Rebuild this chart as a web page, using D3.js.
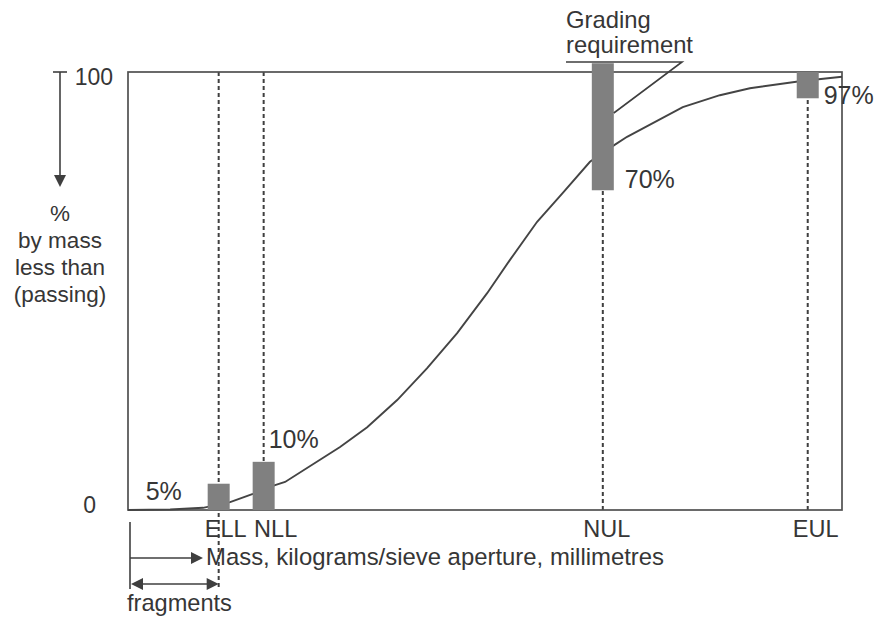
<!DOCTYPE html>
<html>
<head>
<meta charset="utf-8">
<script src="https://cdn.jsdelivr.net/npm/d3@7"></script>
<style>
  body { margin: 0; background: #fff; }
  text { font-family: "Liberation Sans", Arial, sans-serif; fill: #363636; }
</style>
</head>
<body>
<div id="wrapper"></div>
<script>
// grading curve (x is an abstract 0-100 mass scale)
const curveX   = [0, 5.9, 10.5, 14.3, 17.5, 20.6, 22.0, 29.7, 33.5, 37.7, 41.9, 46.1, 50.3, 53.5, 57.3, 60.9, 64.7, 68.1, 69.9, 77.7, 82.9, 87.1, 94.1, 100]
const curvePct = [0, 0.1, 0.5, 1.8, 3.7, 5.7, 6.4, 14.4, 18.9, 25.1, 32.4, 40.4, 49.5, 57.1, 65.8, 72.4, 79.5, 83.3, 85.2, 92.0, 94.7, 96.3, 97.9, 98.9]

// limits
const limitNames = ["ELL", "NLL", "NUL", "EUL"]
const limitPos   = [12.7, 19.0, 66.5, 95.2]
const barLow     = [0, 0, 73, 94]
const barHigh    = [6, 11, 102, 100]
const pctLabels  = ["5%", "10%", "70%", "97%"]

const yTicks = [0, 100]
const yLabelLines = ["%", "by mass", "less than", "(passing)"]

function drawChart() {

    // 1. dimensions
    let dimensions = {
        width: 876,
        height: 621,
        margin: { top: 72, right: 34, bottom: 111, left: 128 },
    }
    dimensions.boundedWidth = dimensions.width - dimensions.margin.left - dimensions.margin.right
    dimensions.boundedHeight = dimensions.height - dimensions.margin.top - dimensions.margin.bottom

    const ink = "#3f3f3f"

    // 2. canvas
    const svg = d3.select("#wrapper")
        .append("svg")
        .attr("width", dimensions.width)
        .attr("height", dimensions.height)

    // 3. scales
    const xScale = d3.scaleLinear()
        .domain([0, 100])
        .range([dimensions.margin.left, dimensions.margin.left + dimensions.boundedWidth])

    const yScale = d3.scaleLinear()
        .domain([0, 100])
        .range([dimensions.margin.top + dimensions.boundedHeight, dimensions.margin.top])

    const x0 = xScale(0), x1 = xScale(100), y0 = yScale(0), y1 = yScale(100)

    function arrowHead(tipX, tipY, dir, len, half) {
        // dir: "right", "left", "down"
        let pts
        if (dir === "right") pts = [[tipX, tipY], [tipX - len, tipY - half], [tipX - len, tipY + half]]
        if (dir === "left") pts = [[tipX, tipY], [tipX + len, tipY - half], [tipX + len, tipY + half]]
        if (dir === "down") pts = [[tipX, tipY], [tipX - half, tipY - len], [tipX + half, tipY - len]]
        svg.append("path").attr("d", "M" + pts.join("L") + "Z").attr("fill", ink)
    }

    // 4. dashed limit lines (under the bars)
    svg.selectAll(".limit")
        .data(limitPos)
        .join("line")
        .attr("class", "limit")
        .attr("x1", d => xScale(d))
        .attr("x2", d => xScale(d))
        .attr("y1", y1)
        .attr("y2", (d, i) => i === 0 ? 590 : y0)
        .attr("stroke", ink)
        .attr("stroke-width", 2)
        .attr("stroke-dasharray", "4,3")

    // 5. frame
    svg.append("rect")
        .attr("x", x0).attr("y", y1)
        .attr("width", x1 - x0).attr("height", y0 - y1)
        .attr("fill", "none")
        .attr("stroke", "#505050")
        .attr("stroke-width", 1.7)

    // 6. curve
    const lineGenerator = d3.line()
        .x((d, i) => xScale(curveX[i]))
        .y((d, i) => yScale(curvePct[i]))

    svg.append("path")
        .attr("d", lineGenerator(curveX))
        .attr("fill", "none")
        .attr("stroke", "#444")
        .attr("stroke-width", 1.9)

    // 7. bars
    const barWidth = 22
    svg.selectAll(".bar")
        .data(limitPos)
        .join("rect")
        .attr("class", "bar")
        .attr("x", d => xScale(d) - barWidth / 2)
        .attr("width", barWidth)
        .attr("y", (d, i) => yScale(barHigh[i]))
        .attr("height", (d, i) => yScale(barLow[i]) - yScale(barHigh[i]))
        .attr("fill", "#808080")

    // percent labels next to bars: [dx, dy, anchor to bar top (1) or bottom (0)]
    const pctOffsets = [[-73, 16, 1], [5, -14, 1], [22, -2, 0], [16, 6, 0]]
    svg.selectAll(".pct")
        .data(pctLabels)
        .join("text")
        .attr("class", "pct")
        .attr("x", (d, i) => xScale(limitPos[i]) + pctOffsets[i][0])
        .attr("y", (d, i) => yScale(pctOffsets[i][2] ? barHigh[i] : barLow[i]) + pctOffsets[i][1])
        .style("font-size", "25px")
        .text(d => d)

    // limit names under the axis
    const nameDx = [7, 12, 4, 8]
    svg.selectAll(".name")
        .data(limitNames)
        .join("text")
        .attr("class", "name")
        .attr("x", (d, i) => xScale(limitPos[i]) + nameDx[i])
        .attr("y", y0 + 27)
        .attr("text-anchor", "middle")
        .style("font-size", "23.5px")
        .text(d => d)

    // 8. y axis side
    svg.selectAll(".ytick")
        .data(yTicks)
        .join("text")
        .attr("class", "ytick")
        .attr("x", d => d === 100 ? 113 : 96)
        .attr("y", d => yScale(d) + (d === 100 ? 13 : 3))
        .attr("text-anchor", "end")
        .style("font-size", "23px")
        .text(d => d)

    svg.append("line").attr("x1", 53).attr("x2", 67).attr("y1", y1).attr("y2", y1)
        .attr("stroke", ink).attr("stroke-width", 1.6)
    svg.append("line").attr("x1", 60).attr("x2", 60).attr("y1", y1).attr("y2", 178)
        .attr("stroke", ink).attr("stroke-width", 1.6)
    arrowHead(60, 187, "down", 12, 6)

    svg.append("text")
        .attr("x", 60)
        .attr("y", 221)
        .attr("text-anchor", "middle")
        .style("font-size", "22.5px")
        .selectAll("tspan")
        .data(yLabelLines)
        .join("tspan")
        .attr("x", 60)
        .attr("dy", (d, i) => i === 0 ? 0 : 27)
        .text(d => d)

    // 9. x axis side
    svg.append("line").attr("x1", 130).attr("x2", 130).attr("y1", 522).attr("y2", 589)
        .attr("stroke", ink).attr("stroke-width", 1.6)
    svg.append("line").attr("x1", 130).attr("x2", 192).attr("y1", 558).attr("y2", 558)
        .attr("stroke", ink).attr("stroke-width", 1.6)
    arrowHead(203, 558, "right", 12, 6)

    svg.append("text")
        .attr("x", 206)
        .attr("y", 565)
        .style("font-size", "23.9px")
        .text("Mass, kilograms/sieve aperture, millimetres")

    const fragEnd = xScale(limitPos[0])
    svg.append("line").attr("x1", 140).attr("x2", fragEnd - 10).attr("y1", 584).attr("y2", 584)
        .attr("stroke", ink).attr("stroke-width", 1.6)
    arrowHead(131, 584, "left", 12, 6)
    arrowHead(fragEnd, 584, "right", 12, 6)

    svg.append("text")
        .attr("x", 127)
        .attr("y", 611)
        .style("font-size", "23.6px")
        .text("fragments")

    // 10. grading requirement callout
    svg.append("text").attr("x", 566).attr("y", 28).style("font-size", "23.8px").text("Grading")
    svg.append("text").attr("x", 566).attr("y", 53).style("font-size", "23.8px").text("requirement")
    svg.append("path")
        .attr("d", `M566,62L682,62L${xScale(limitPos[2]) + barWidth / 2},113`)
        .attr("fill", "none")
        .attr("stroke", ink)
        .attr("stroke-width", 1.6)
}
drawChart()
</script>
</body>
</html>
